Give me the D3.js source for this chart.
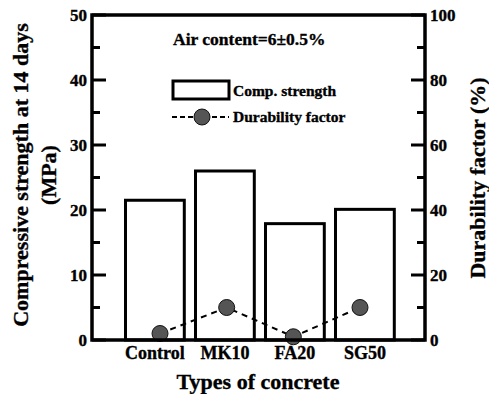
<!DOCTYPE html>
<html>
<head>
<meta charset="utf-8">
<script src="https://cdn.jsdelivr.net/npm/d3@7"></script>
<style>
  body { margin: 0; background: #fff; }
  svg text { font-family: "Liberation Serif", "Times New Roman", Times, "Nimbus Roman", "DejaVu Serif", serif; font-weight: bold; fill: #000; stroke: #000; stroke-width: 0.35px; }
</style>
</head>
<body>
<div id="chart"></div>
<script>
// data
var categories = ["Control", "MK10", "FA20", "SG50"];
var strength = [21.5, 26, 17.9, 20.1];       // MPa, left axis
var durability = [2, 10, 1, 10];             // %, right axis
var leftTicks = [0, 10, 20, 30, 40, 50];
var rightTicks = [0, 20, 40, 60, 80, 100];

var W = 489, H = 394;
var margin = {top: 15, right: 64, bottom: 54, left: 92};
var width = W - margin.left - margin.right,
    height = H - margin.top - margin.bottom;

var svg = d3.select("#chart").append("svg")
    .attr("width", W).attr("height", H);
var g = svg.append("g")
    .attr("transform", "translate(" + margin.left + "," + margin.top + ")");

// scales
var y = d3.scaleLinear().domain([0, 50]).range([height, 0]);
var y2 = d3.scaleLinear().domain([0, 100]).range([height, 0]);
var x = d3.scaleBand().domain(categories).range([33.5, 302.3]).paddingInner(0.16);
var xp = d3.scalePoint().domain(categories).range([68, 268]);

// bars
g.selectAll(".bar")
    .data(categories)
    .enter()
    .append("rect")
    .attr("x", function (d) { return x(d); })
    .attr("y", function (d, i) { return y(strength[i]); })
    .attr("width", x.bandwidth())
    .attr("height", function (d, i) { return height - y(strength[i]); })
    .attr("fill", "#fff")
    .attr("stroke", "#000")
    .attr("stroke-width", 3);

// durability line + dots
var line = d3.line()
    .x(function (d, i) { return xp(categories[i]); })
    .y(function (d) { return y2(d); });
g.append("path")
    .datum(durability)
    .attr("d", line)
    .attr("fill", "none")
    .attr("stroke", "#000")
    .attr("stroke-width", 2)
    .attr("stroke-dasharray", "6,5");
g.selectAll(".dot")
    .data(durability)
    .enter()
    .append("circle")
    .attr("cx", function (d, i) { return xp(categories[i]); })
    .attr("cy", function (d) { return y2(d); })
    .attr("r", 8)
    .attr("fill", "#555")
    .attr("stroke", "#111")
    .attr("stroke-width", 1);

// frame
g.append("rect")
    .attr("width", width).attr("height", height)
    .attr("fill", "none").attr("stroke", "#000").attr("stroke-width", 3.5);

// left axis (ticks inward)
var leftAxis = g.append("g");
leftAxis.selectAll(".minor")
    .data(d3.range(5, 50, 10))
    .enter().append("line")
    .attr("x1", 0).attr("x2", 8)
    .attr("y1", function (d) { return y(d); }).attr("y2", function (d) { return y(d); })
    .attr("stroke", "#000").attr("stroke-width", 3);
leftAxis.selectAll(".major")
    .data(leftTicks)
    .enter().append("line")
    .attr("x1", 0).attr("x2", 14)
    .attr("y1", function (d) { return y(d); }).attr("y2", function (d) { return y(d); })
    .attr("stroke", "#000").attr("stroke-width", 3);
leftAxis.selectAll(".lbl")
    .data(leftTicks)
    .enter().append("text")
    .attr("x", -5)
    .attr("y", function (d) { return y(d); })
    .attr("dy", "0.35em")
    .attr("text-anchor", "end")
    .style("font-size", "17px")
    .text(function (d) { return d; });

// right axis (ticks inward)
var rightAxis = g.append("g").attr("transform", "translate(" + width + ",0)");
rightAxis.selectAll(".minor")
    .data(d3.range(10, 100, 20))
    .enter().append("line")
    .attr("x1", 0).attr("x2", -8)
    .attr("y1", function (d) { return y2(d); }).attr("y2", function (d) { return y2(d); })
    .attr("stroke", "#000").attr("stroke-width", 3);
rightAxis.selectAll(".major")
    .data(rightTicks)
    .enter().append("line")
    .attr("x1", 0).attr("x2", -14)
    .attr("y1", function (d) { return y2(d); }).attr("y2", function (d) { return y2(d); })
    .attr("stroke", "#000").attr("stroke-width", 3);
rightAxis.selectAll(".lbl")
    .data(rightTicks)
    .enter().append("text")
    .attr("x", 5)
    .attr("y", function (d) { return y2(d); })
    .attr("dy", "0.35em")
    .attr("text-anchor", "start")
    .style("font-size", "17px")
    .text(function (d) { return d; });

// category labels
g.selectAll(".cat")
    .data(categories)
    .enter().append("text")
    .attr("x", function (d) { return x(d) + x.bandwidth() / 2; })
    .attr("y", height + 19)
    .attr("text-anchor", "middle")
    .style("font-size", "18px")
    .text(function (d) { return d; });

// axis titles
svg.append("text")
    .attr("x", 258).attr("y", 389)
    .attr("text-anchor", "middle")
    .style("font-size", "22px")
    .text("Types of concrete");
svg.append("text")
    .attr("transform", "translate(28,175) rotate(-90)")
    .attr("text-anchor", "middle")
    .style("font-size", "22px")
    .text("Compressive strength at 14 days");
svg.append("text")
    .attr("transform", "translate(56,175) rotate(-90)")
    .attr("text-anchor", "middle")
    .style("font-size", "22px")
    .text("(MPa)");
svg.append("text")
    .attr("transform", "translate(485,178) rotate(-90)")
    .attr("text-anchor", "middle")
    .style("font-size", "22px")
    .text("Durability factor (%)");

// annotation
svg.append("text")
    .attr("x", 173).attr("y", 45)
    .style("font-size", "17.5px")
    .text("Air content=6\u00b10.5%");

// legend
svg.append("rect")
    .attr("x", 173).attr("y", 81).attr("width", 56).attr("height", 18)
    .attr("fill", "#fff").attr("stroke", "#000").attr("stroke-width", 3);
svg.append("text")
    .attr("x", 233).attr("y", 96)
    .style("font-size", "15.5px")
    .text("Comp. strength");
svg.append("line")
    .attr("x1", 172).attr("x2", 229).attr("y1", 117).attr("y2", 117)
    .attr("stroke", "#000").attr("stroke-width", 2).attr("stroke-dasharray", "5,3");
svg.append("circle")
    .attr("cx", 202).attr("cy", 117).attr("r", 8)
    .attr("fill", "#555").attr("stroke", "#111").attr("stroke-width", 1);
svg.append("text")
    .attr("x", 233).attr("y", 122)
    .style("font-size", "15.5px")
    .text("Durability factor");
</script>
</body>
</html>
